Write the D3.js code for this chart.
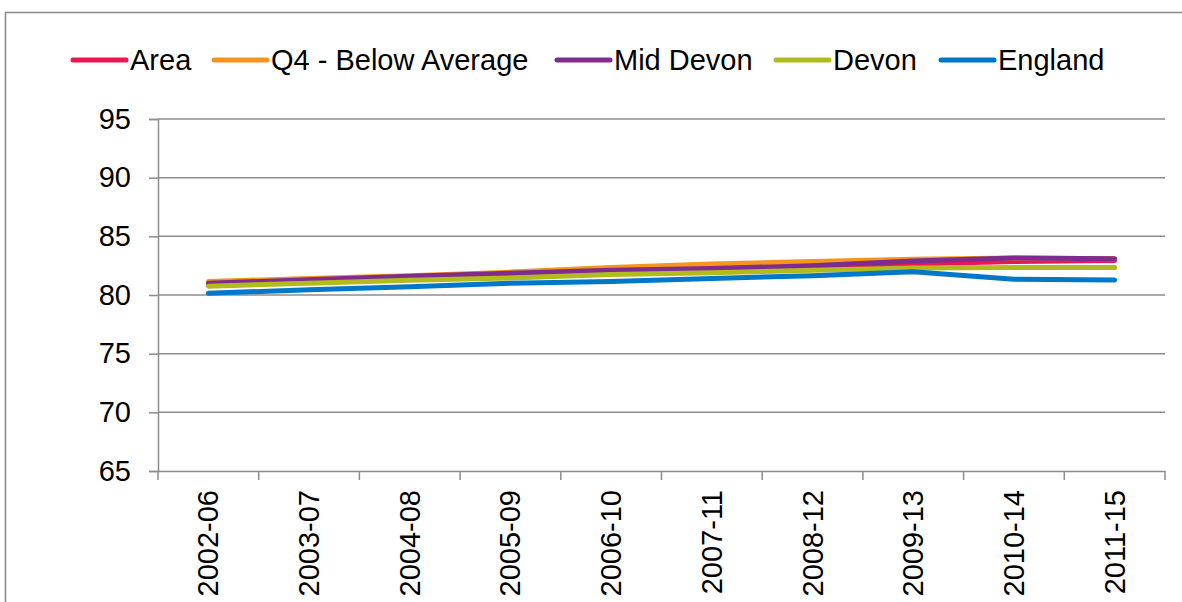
<!DOCTYPE html>
<html>
<head>
<meta charset="utf-8">
<script src="https://cdn.jsdelivr.net/npm/d3@7"></script>
<style>
  html, body { margin: 0; padding: 0; background: #fff; }
  svg { display: block; font-family: "Liberation Sans", Arial, sans-serif; }
</style>
</head>
<body>
<svg id="chart" width="1182" height="602"></svg>
<script>
// Periods on the x axis
var periods = ["2002-06", "2003-07", "2004-08", "2005-09", "2006-10",
               "2007-11", "2008-12", "2009-13", "2010-14", "2011-15"];

// Series values
var area    = [81.0, 81.3, 81.55, 81.85, 82.15, 82.3, 82.45, 82.65, 82.85, 82.95];
var q4      = [81.15, 81.4, 81.65, 81.95, 82.35, 82.65, 82.85, 83.05, 83.15, 83.1];
var midDevon = [81.0, 81.3, 81.6, 81.85, 82.1, 82.25, 82.5, 82.9, 83.15, 83.1];
var devon   = [80.75, 81.0, 81.25, 81.45, 81.75, 81.9, 82.1, 82.3, 82.35, 82.35];
var england = [80.15, 80.45, 80.7, 81.0, 81.15, 81.4, 81.65, 81.99, 81.35, 81.28];

var seriesNames = ["Area", "Q4 - Below Average", "Mid Devon", "Devon", "England"];
var seriesColours = ["#ed1650", "#f7941d", "#7f2b8f", "#b2bb1e", "#0077c8"];
var seriesValues = [area, q4, midDevon, devon, england];

var yTicks = [65, 70, 75, 80, 85, 90, 95];

var svg = d3.select("#chart");

// outer chart frame (runs off the right and bottom of the picture)
svg.append("rect")
  .attr("x", 5.5).attr("y", 12.5)
  .attr("width", 1300).attr("height", 700)
  .attr("fill", "none")
  .attr("stroke", "#888")
  .attr("stroke-width", 1.5);

var plotLeft = 158, plotRight = 1165, plotTop = 119, plotBottom = 471;

var x = d3.scaleBand().domain(periods).range([plotLeft, plotRight]);
var y = d3.scaleLinear().domain([65, 95]).range([plotBottom, plotTop]);

// gridlines
svg.append("g")
  .selectAll("line")
  .data(yTicks.filter(function(d) { return d !== 65; }))
  .enter().append("line")
  .attr("x1", plotLeft).attr("x2", plotRight)
  .attr("y1", function(d) { return y(d); })
  .attr("y2", function(d) { return y(d); })
  .attr("stroke", "#8c8c8c")
  .attr("stroke-width", 1.5);

// y axis
var yAxis = svg.append("g")
  .attr("transform", "translate(" + plotLeft + ",0)")
  .call(d3.axisLeft(y).tickValues(yTicks).tickSize(9).tickPadding(18));
yAxis.select(".domain").attr("stroke", "#8c8c8c").attr("stroke-width", 1.5);
yAxis.selectAll(".tick line").attr("stroke", "#8c8c8c").attr("stroke-width", 1.5);
yAxis.selectAll(".tick text")
  .attr("font-size", 29)
  .attr("font-family", "Liberation Sans, Arial, sans-serif")
  .attr("fill", "#000");

// x axis with ticks at band edges
var xAxis = svg.append("g")
  .attr("transform", "translate(0," + plotBottom + ")")
  .call(d3.axisBottom(x).tickSize(0).tickPadding(0));
xAxis.select(".domain").attr("stroke", "#8c8c8c").attr("stroke-width", 1.5);
xAxis.selectAll(".tick text")
  .attr("font-size", 29)
  .attr("font-family", "Liberation Sans, Arial, sans-serif")
  .attr("fill", "#000")
  .attr("text-anchor", "end")
  .attr("dy", null)
  .attr("transform", "translate(10,19) rotate(-90)");

var edges = periods.map(function(p) { return x(p); }).concat([plotRight]);
xAxis.append("g")
  .selectAll("line")
  .data(edges)
  .enter().append("line")
  .attr("x1", function(d) { return d; })
  .attr("x2", function(d) { return d; })
  .attr("y1", 0).attr("y2", 9)
  .attr("stroke", "#8c8c8c")
  .attr("stroke-width", 1.5);

// lines
var line = d3.line()
  .x(function(d, i) { return x(periods[i]) + x.bandwidth() / 2; })
  .y(function(d) { return y(d); });

svg.append("g")
  .selectAll("path")
  .data(seriesValues)
  .enter().append("path")
  .attr("d", line)
  .attr("fill", "none")
  .attr("stroke", function(d, i) { return seriesColours[i]; })
  .attr("stroke-width", 5)
  .attr("stroke-linecap", "round")
  .attr("stroke-linejoin", "round");

// legend
var legendX = [72, 213, 556, 775, 940];
var legend = svg.append("g")
  .selectAll("g")
  .data(seriesNames)
  .enter().append("g")
  .attr("transform", function(d, i) { return "translate(" + legendX[i] + ",60)"; });

legend.append("line")
  .attr("x1", 1).attr("x2", 54)
  .attr("y1", 0).attr("y2", 0)
  .attr("stroke", function(d, i) { return seriesColours[i]; })
  .attr("stroke-width", 5)
  .attr("stroke-linecap", "round");

legend.append("text")
  .attr("x", 58)
  .attr("y", 10)
  .attr("font-size", 29)
  .attr("fill", "#000")
  .text(function(d) { return d; });
</script>
</body>
</html>
